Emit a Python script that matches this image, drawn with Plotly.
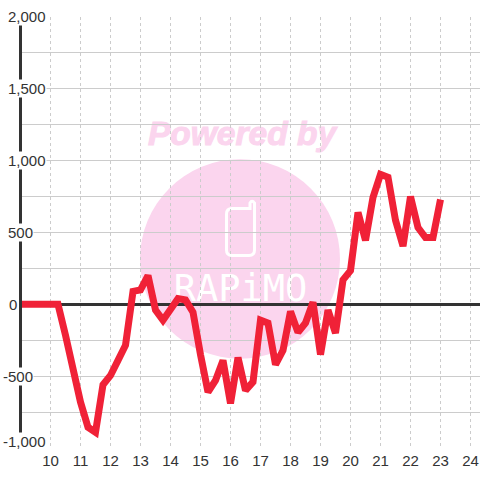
import plotly.graph_objects as go

# ---- data ----
hours = [8.9, 9, 9.25, 9.5, 9.75, 10, 10.25, 10.5, 10.75, 11, 11.25, 11.5, 11.75, 12, 12.25, 12.5, 12.75,
         13, 13.25, 13.5, 13.75, 14, 14.25, 14.5, 14.75, 15, 15.25, 15.5, 15.75, 16, 16.25, 16.5, 16.75,
         17, 17.25, 17.5, 17.75, 18, 18.25, 18.5, 18.75, 19, 19.25, 19.5, 19.75, 20, 20.25, 20.5, 20.75,
         21, 21.25, 21.5, 21.75, 22, 22.25, 22.5, 22.75, 23]
values = [0, 0, 0, 0, 0, 0, 0, -215, -450, -680, -855, -890, -560, -495, -390, -285, 90,
          100, 200, -40, -110, -40, 40, 30, -55, -350, -610, -530, -390, -690, -370, -600, -540,
          -110, -130, -420, -320, -50, -195, -130, 15, -350, -40, -200, 170, 235, 640, 445, 745,
          905, 885, 585, 405, 750, 535, 465, 465, 730]
x_ticks = list(range(10, 25))
y_ticks = [-1000, -500, 0, 500, 1000, 1500, 2000]
y_grid_step = 250
watermark_top = "Powered by"
watermark_logo = "RAPiMO"

# ---- styles ----
INK = "#333333"
GRID = "#cccccc"
PINK = "#fbd5ee"
RED = "#f02137"
FONT = "Liberation Sans"

# pixel <-> data helpers, for the decorative watermark and the axis window only
L, T, B = 22.0, 16.5, 448.5
def dx(px):
    return 10 + (px - 50.5) / 30
def dy(py):
    return (304.5 - py) * 250 / 36

def P(a, b):
    return f"{dx(a):.4f},{dy(b):.2f}"

phone = (f"M {P(250,208.5)} L {P(250,203)} Q {P(252,199.5)} {P(254.5,203)} L {P(254.5,250)} "
         f"Q {P(254.5,255.5)} {P(249,255.5)} L {P(232,255.5)} Q {P(226.5,255.5)} {P(226.5,250)} "
         f"L {P(226.5,214)} Q {P(226.5,208.5)} {P(232,208.5)} Z")

shapes = [
    dict(type="circle", xref="x", yref="y", x0=dx(140), x1=dx(340), y0=dy(359), y1=dy(159),
         fillcolor=PINK, line_width=0, layer="below"),
    dict(type="path", xref="x", yref="y", path=phone, line=dict(color="white", width=3),
         fillcolor="rgba(0,0,0,0)", layer="below"),
    dict(type="rect", xref="x", yref="y", x0=dx(130), x1=dx(354), y0=dy(148), y1=dy(112),
         line_width=0, fillcolor="rgba(0,0,0,0)", layer="below",
         label=dict(text=f"<b><i>{watermark_top}</i></b>", textposition="middle center",
                    font=dict(family=FONT, size=33.5, color=PINK))),
    dict(type="rect", xref="x", yref="y", x0=dx(160), x1=dx(321), y0=dy(302), y1=dy(270),
         line_width=0, fillcolor="rgba(0,0,0,0)", layer="below",
         label=dict(text=watermark_logo, textposition="middle center",
                    font=dict(family="DejaVu Sans Mono", size=37, color="white"))),
]

annotations = [
    dict(xref="paper", yref="y", x=0, y=v, xanchor="left", yanchor="middle",
         xshift=-15 - 5 * (v < 0) + (v == 0), yshift=7 if v == min(y_ticks) else (1 if v == max(y_ticks) else 0),
         showarrow=False, text=f"{v:,}", bgcolor="white", borderpad=0,
         font=dict(family=FONT, size=15, color=INK))
    for v in y_ticks
]

fig = go.Figure(go.Scatter(x=hours, y=values, mode="lines", cliponaxis=False,
                           line=dict(color=RED, width=7), hoverinfo="skip"))
fig.update_layout(
    width=480, height=480, autosize=False,
    margin=dict(l=L, r=0, t=T, b=480 - B, pad=0),
    paper_bgcolor="white", plot_bgcolor="white", showlegend=False,
    shapes=shapes, annotations=annotations,
    xaxis=dict(range=[dx(L), dx(480)], tickmode="array", tickvals=x_ticks, ticktext=[str(t) for t in x_ticks],
               showgrid=True, gridcolor=GRID, gridwidth=1, griddash="3px,3px", zeroline=False, showline=False,
               ticks="", ticklen=0, tickangle=0, ticklabelstandoff=2,
               tickfont=dict(family=FONT, size=15, color=INK)),
    yaxis=dict(range=[-1000, 2000], tick0=0, dtick=y_grid_step, showticklabels=False,
               showgrid=True, gridcolor=GRID, gridwidth=1, zeroline=True, zerolinecolor=INK, zerolinewidth=3,
               showline=True, linecolor=INK, linewidth=3, ticks="", layer="below traces"),
)
css = (".js-plotly-plot .js-line{stroke-linejoin:miter !important;stroke-miterlimit:2 !important;"
       "stroke-linecap:butt !important;}body{margin:0 !important;}"
       "text[style*='rgb(251, 213, 238)']{stroke:#fbd5ee;stroke-width:1px;}")
fig.write_html("out.html",
               post_script="var s=document.createElement('style');s.textContent=%r;document.head.appendChild(s);" % css,
               config=dict(displayModeBar=False, responsive=False))
